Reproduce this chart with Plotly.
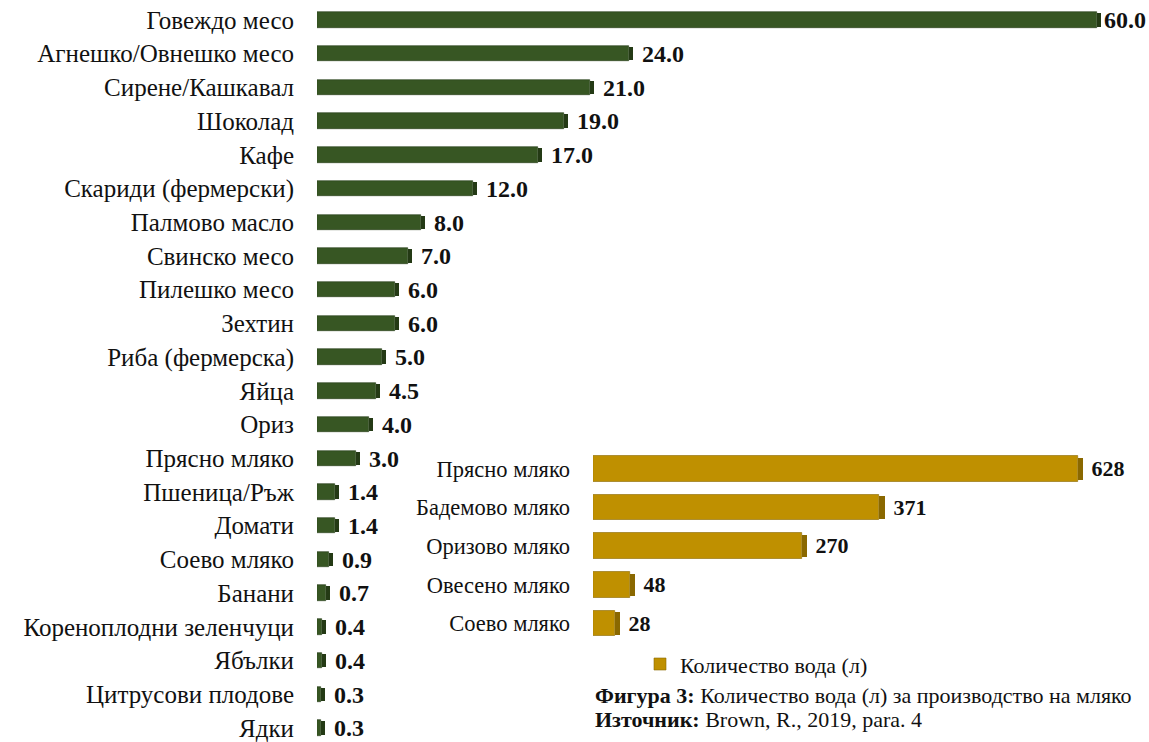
import plotly.graph_objects as go

# Water footprint per product (litres)
products = [
    "Говеждо месо", "Агнешко/Овнешко месо", "Сирене/Кашкавал", "Шоколад", "Кафе",
    "Скариди (фермерски)", "Палмово масло", "Свинско месо", "Пилешко месо", "Зехтин",
    "Риба (фермерска)", "Яйца", "Ориз", "Прясно мляко", "Пшеница/Ръж", "Домати",
    "Соево мляко", "Банани", "Кореноплодни зеленчуци", "Ябълки", "Цитрусови плодове", "Ядки",
]
product_water = [60.0, 24.0, 21.0, 19.0, 17.0, 12.0, 8.0, 7.0, 6.0, 6.0, 5.0, 4.5, 4.0,
                 3.0, 1.4, 1.4, 0.9, 0.7, 0.4, 0.4, 0.3, 0.3]

# Water needed for milk and plant-based alternatives (litres)
milks = ["Прясно мляко", "Бадемово мляко", "Оризово мляко", "Овесено мляко", "Соево мляко"]
milk_water = [628, 371, 270, 48, 28]

GREEN = "#375623"
GREEN_DARK = "#243a15"
GOLD = "#BF9000"
GOLD_DARK = "#8a6800"
SERIF = "Liberation Serif, Times New Roman, serif"
INK = "#111111"

# the longest bar sits at the right edge, so its label gets no extra padding
green_templates = ["%{customdata:.1f}"] + [" %{customdata:.1f}"] * (len(products) - 1)

fig = go.Figure()

# green chart: main bars + small darker end face for the 3D look
fig.add_trace(go.Bar(
    y=products, x=product_water, orientation="h", marker_color=GREEN,
    marker_line=dict(color=GREEN_DARK, width=0.6), width=0.46,
    xaxis="x", yaxis="y", showlegend=False, hoverinfo="skip",
))
fig.add_trace(go.Bar(
    y=products, x=[0.32] * len(products), base=product_water, orientation="h",
    marker_color=GREEN_DARK, marker_line_width=0, width=0.4,
    customdata=product_water, texttemplate=green_templates,
    textposition="outside", cliponaxis=False, constraintext="none",
    textfont=dict(family=SERIF, size=24, color=INK, weight="bold"),
    xaxis="x", yaxis="y", showlegend=False, hoverinfo="skip",
))

# gold chart
fig.add_trace(go.Bar(
    y=milks, x=milk_water, orientation="h", marker_color=GOLD,
    marker_line=dict(color=GOLD_DARK, width=0.6), width=0.66,
    name="Количество вода (л)", xaxis="x2", yaxis="y2", hoverinfo="skip",
))
fig.add_trace(go.Bar(
    y=milks, x=[7] * len(milks), base=milk_water, orientation="h",
    marker_color=GOLD_DARK, marker_line_width=0, width=0.58,
    customdata=milk_water, texttemplate=" %{customdata:d}",
    textposition="outside", cliponaxis=False, constraintext="none",
    textfont=dict(family=SERIF, size=22, color=INK, weight="bold"),
    xaxis="x2", yaxis="y2", showlegend=False, hoverinfo="skip",
))

W, H = 1149, 742
fig.update_layout(
    width=W, height=H, margin=dict(l=0, r=0, t=0, b=0),
    paper_bgcolor="white", plot_bgcolor="rgba(0,0,0,0)",
    barmode="overlay", bargap=0,
    font=dict(family=SERIF, size=22, color=INK),
    xaxis=dict(domain=[317 / W, 1.0], range=[0, 64], visible=False),
    yaxis=dict(domain=[0, 1], range=[21.355, -0.5915], showgrid=False, zeroline=False,
               showline=False, ticks="", ticklabelstandoff=22,
               tickfont=dict(family=SERIF, size=25, color=INK)),
    xaxis2=dict(domain=[593 / W, 1.0], range=[0, 720], visible=False, anchor="y2"),
    yaxis2=dict(domain=[1 - 660 / H, 1 - 440 / H], range=[4.903, -0.774], anchor="x2",
                showgrid=False, zeroline=False, showline=False, ticks="",
                ticklabelstandoff=22,
                tickfont=dict(family=SERIF, size=22.5, color=INK)),
    legend=dict(x=640 / W, y=1 - 666 / H, xanchor="left", yanchor="middle",
                font=dict(family=SERIF, size=22, color=INK),
                bgcolor="rgba(0,0,0,0)", itemwidth=30),
    showlegend=True,
)

fig.add_annotation(
    x=593 / W, y=1 - 697 / H, xref="paper", yref="paper", xanchor="left", yanchor="middle",
    text="<b>Фигура 3:</b> Количество вода (л) за производство на мляко",
    showarrow=False, font=dict(family=SERIF, size=22, color=INK),
)
fig.add_annotation(
    x=593 / W, y=1 - 721 / H, xref="paper", yref="paper", xanchor="left", yanchor="middle",
    text="<b>Източник:</b> Brown, R., 2019, para. 4",
    showarrow=False, font=dict(family=SERIF, size=22, color=INK),
)

fig.write_html("out.html")
